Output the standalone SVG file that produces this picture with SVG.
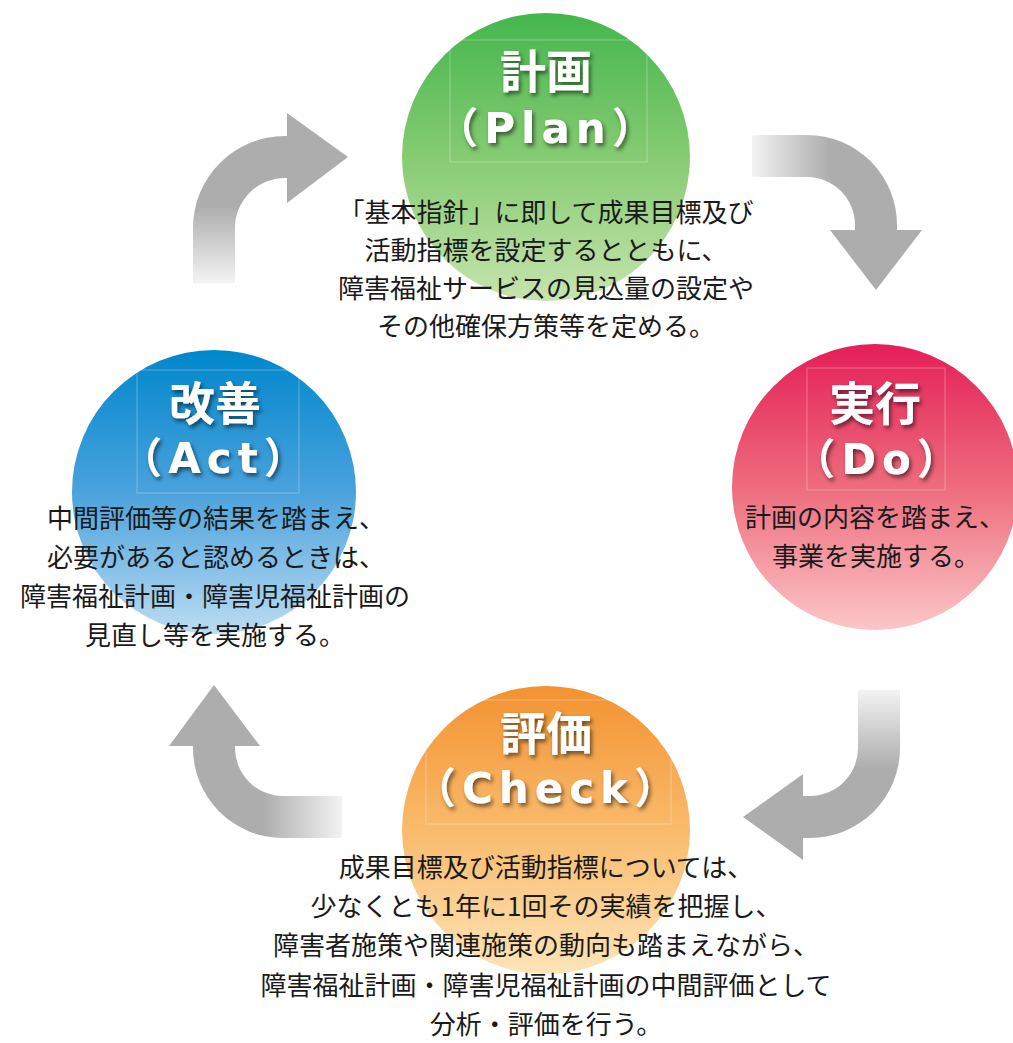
<svg xmlns="http://www.w3.org/2000/svg" width="1013" height="1043" viewBox="0 0 1013 1043">
<style>
.title{font-weight:700;fill:#ffffff;text-anchor:middle;filter:url(#sh);}
.t1{font-family:"Noto Sans CJK JP","Noto Sans",sans-serif;font-size:46px;}
.t2{font-family:"DejaVu Sans","Noto Sans CJK JP",sans-serif;font-size:42px;letter-spacing:6px;}
.body{font-family:"Noto Sans CJK JP","Noto Sans",sans-serif;font-size:26px;fill:#1a1a1a;text-anchor:middle;}
.box{fill:none;stroke:#ffffff;stroke-opacity:0.3;stroke-width:1;}
.arrow{stroke:none;}
</style>
<defs>
<filter id="sh" x="-20%" y="-30%" width="140%" height="160%">
<feDropShadow dx="2" dy="3" stdDeviation="2.2" flood-color="#000000" flood-opacity="0.55"/>
</filter>
<linearGradient id="gPlan" x1="0" y1="0" x2="0" y2="1">
<stop offset="0" stop-color="#44b64d"/>
<stop offset="0.5" stop-color="#86cb72"/>
<stop offset="1" stop-color="#c6e4ae"/>
</linearGradient>
<linearGradient id="gDo" x1="0" y1="0" x2="0" y2="1">
<stop offset="0" stop-color="#e41f58"/>
<stop offset="0.5" stop-color="#ee6c7c"/>
<stop offset="1" stop-color="#fbc6c8"/>
</linearGradient>
<linearGradient id="gAct" x1="0" y1="0" x2="0" y2="1">
<stop offset="0" stop-color="#0087cc"/>
<stop offset="0.5" stop-color="#4aa2dc"/>
<stop offset="1" stop-color="#bcdcf2"/>
</linearGradient>
<linearGradient id="gCheck" x1="0" y1="0" x2="0" y2="1">
<stop offset="0" stop-color="#f39230"/>
<stop offset="0.5" stop-color="#f9bb6c"/>
<stop offset="1" stop-color="#fee4b8"/>
</linearGradient>
<linearGradient id="a1" gradientUnits="userSpaceOnUse" x1="752" y1="0" x2="830" y2="0">
<stop offset="0" stop-color="#f3f3f3"/>
<stop offset="1" stop-color="#adadad"/>
</linearGradient>
<linearGradient id="a2" gradientUnits="userSpaceOnUse" x1="0" y1="690" x2="0" y2="768">
<stop offset="0" stop-color="#f3f3f3"/>
<stop offset="1" stop-color="#adadad"/>
</linearGradient>
<linearGradient id="a3" gradientUnits="userSpaceOnUse" x1="342" y1="0" x2="263" y2="0">
<stop offset="0" stop-color="#f3f3f3"/>
<stop offset="1" stop-color="#adadad"/>
</linearGradient>
<linearGradient id="a4" gradientUnits="userSpaceOnUse" x1="0" y1="283" x2="0" y2="206">
<stop offset="0" stop-color="#f3f3f3"/>
<stop offset="1" stop-color="#adadad"/>
</linearGradient>
</defs>
<rect x="0" y="0" width="1013" height="1043" fill="#ffffff"/>

<g id="connectors">
<path id="arrow-plan-do" class="arrow" fill="url(#a1)" d="M752,135 L807,135 A90,90 0 0 1 897,225 L897,230 L922,230 L876,290 L830,230 L855,230 L855,225 A48,48 0 0 0 807,177 L752,177 Z"/>
<path id="arrow-do-check" class="arrow" fill="url(#a2)" d="M900,690 L900,748 A90,90 0 0 1 810,838 L803,838 L803,860 L743,817 L803,774 L803,796 L810,796 A48,48 0 0 0 858,748 L858,690 Z"/>
<path id="arrow-check-act" class="arrow" fill="url(#a3)" d="M342,796 L283,796 A48,48 0 0 1 235,748 L235,746 L260,746 L214,685 L169,746 L193,746 L193,748 A90,90 0 0 0 283,838 L342,838 Z"/>
<path id="arrow-act-plan" class="arrow" fill="url(#a4)" d="M193,283 L193,228 A92,92 0 0 1 285,136 L287,136 L287,113 L348,157 L287,203 L287,178 L285,178 A50,50 0 0 0 235,228 L235,283 Z"/>
</g>

<g id="node-plan">
<circle cx="546" cy="157" r="144" fill="url(#gPlan)"/>
<rect class="box" x="450" y="40" width="197" height="122"/>
<text class="title t1" x="546" y="88">計画</text>
<text class="title t2" x="548" y="143">（Plan）</text>
<text class="body" x="546" y="222">「基本指針」に即して成果目標及び</text>
<text class="body" x="546" y="260">活動指標を設定するとともに、</text>
<text class="body" x="546" y="298">障害福祉サービスの見込量の設定や</text>
<text class="body" x="546" y="336">その他確保方策等を定める。</text>
</g>

<g id="node-do">
<circle cx="875" cy="487" r="143" fill="url(#gDo)"/>
<rect class="box" x="807" y="368" width="138" height="122"/>
<text class="title t1" x="875" y="420">実行</text>
<text class="title t2" x="879" y="474">（Do）</text>
<text class="body" x="875" y="527">計画の内容を踏まえ、</text>
<text class="body" x="876" y="566">事業を実施する。</text>
</g>

<g id="node-act">
<circle cx="214" cy="492" r="142" fill="url(#gAct)"/>
<rect class="box" x="137" y="370" width="162" height="123"/>
<text class="title t1" x="215" y="420">改善</text>
<text class="title t2" x="216" y="473">（Act）</text>
<text class="body" x="216" y="528">中間評価等の結果を踏まえ、</text>
<text class="body" x="216" y="567">必要があると認めるときは、</text>
<text class="body" x="215" y="606">障害福祉計画・障害児福祉計画の</text>
<text class="body" x="215" y="645">見直し等を実施する。</text>
</g>

<g id="node-check">
<circle cx="546" cy="830" r="144" fill="url(#gCheck)"/>
<rect class="box" x="426" y="700" width="245" height="124"/>
<text class="title t1" x="546" y="750">評価</text>
<text class="title t2" x="548" y="803">（Check）</text>
<text class="body" x="546" y="877">成果目標及び活動指標については、</text>
<text class="body" x="546" y="916">少なくとも1年に1回その実績を把握し、</text>
<text class="body" x="546" y="955">障害者施策や関連施策の動向も踏まえながら、</text>
<text class="body" x="546" y="995">障害福祉計画・障害児福祉計画の中間評価として</text>
<text class="body" x="546" y="1034">分析・評価を行う。</text>
</g>
</svg>
